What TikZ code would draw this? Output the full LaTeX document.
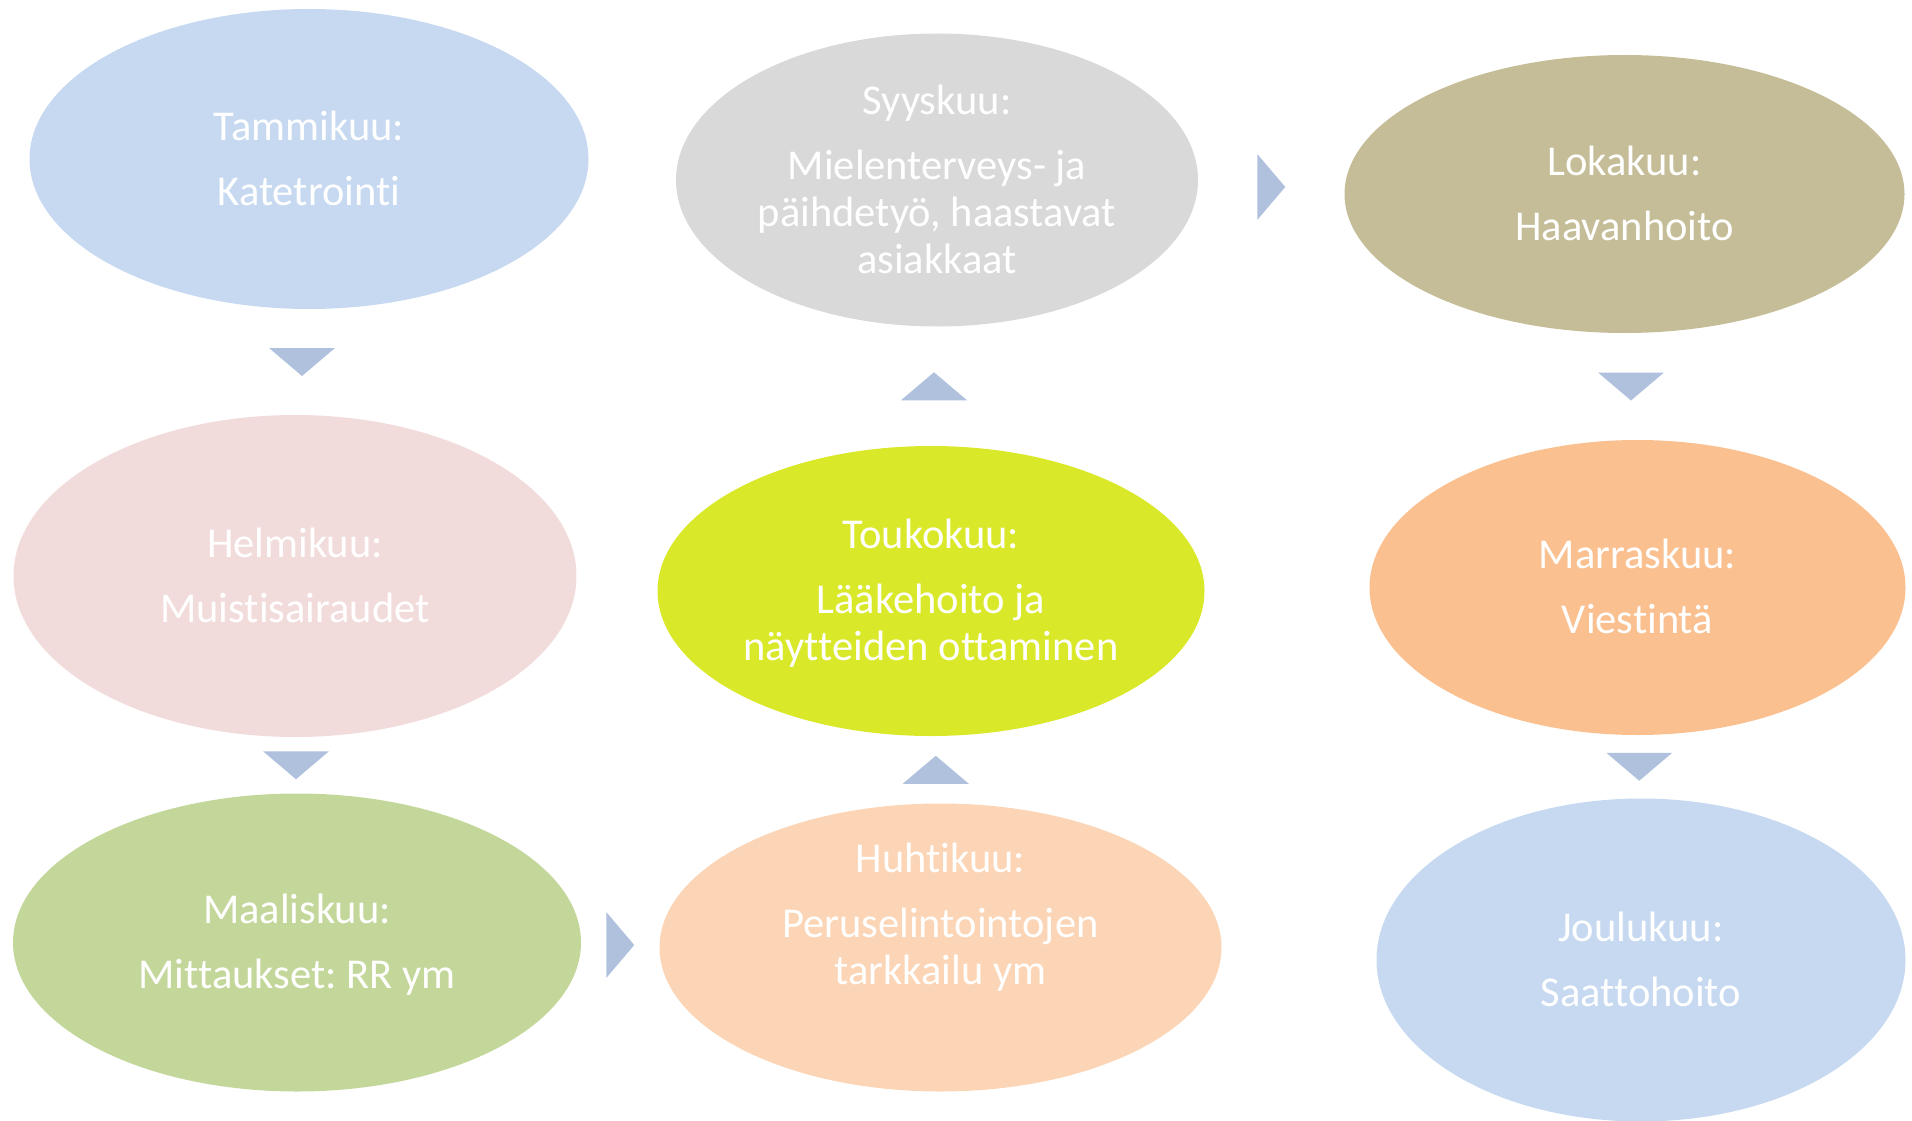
\documentclass[tikz,border=0pt]{standalone}
\usepackage{fontspec}
\setmainfont{Carlito}[Ligatures=NoCommon]
\usepackage{tikz}
\usetikzlibrary{shapes.geometric,calc}
\definecolor{janblue}{HTML}{C6D9F1}
\definecolor{febpink}{HTML}{F2DCDB}
\definecolor{margreen}{HTML}{C4D79B}
\definecolor{aprpeach}{HTML}{FBD5B5}
\definecolor{mayyellow}{HTML}{DAE82A}
\definecolor{sepgrey}{HTML}{D9D9D9}
\definecolor{octkhaki}{HTML}{C4BD97}
\definecolor{novorange}{HTML}{FAC090}
\definecolor{arrowblue}{HTML}{AFC1DD}
\frenchspacing
\def\Top{\rule{0pt}{37pt}}
\def\Bot{\rule[-10pt]{0pt}{10pt}}
\def\Chevron#1#2#3{%
\begin{scope}[shift=($(#1)!0.5!(#2)$), rotate=#3]
  \fill[chevron] (-14,-33) -- (-14,33) -- (14,0) -- cycle;
\end{scope}
}
\tikzset{month/.style={ellipse, fill=#1, draw=none, inner sep=0pt, outer sep=0pt,
           text=white, align=center, font=\fontsize{42.5}{47}\selectfont},
     chevron/.style={fill=arrowblue, draw=none}
     }

\begin{document}
\begin{tikzpicture}[x=1pt, y=-1pt]
\useasboundingbox (0,0) rectangle (1912,1121);
\node[month=janblue, minimum width=559, minimum height=300] (tammikuu) at (309,159)
  {\Top Tammikuu:\\[18pt]Katetrointi\Bot};
\node[month=febpink, minimum width=563, minimum height=322] (helmikuu) at (295,576)
  {\Top Helmikuu:\\[18pt]Muistisairaudet\Bot};
\node[month=margreen, minimum width=568, minimum height=298] (maaliskuu) at (297,942.5)
  {\Top Maaliskuu:\\[18pt]Mittaukset: RR ym\Bot};
\node[month=aprpeach, minimum width=562, minimum height=288] (huhtikuu) at (940.5,947.5)
  {\smash{Huhtikuu:}\\[18pt]Peruselintointojen\\tarkkailu ym\rule[-39pt]{0pt}{39pt}};
\node[month=mayyellow, minimum width=547, minimum height=290] (toukokuu) at (931,591)
  {\Top Toukokuu:\\[18pt]Lääkehoito ja\\näytteiden ottaminen\Bot};
\node[month=sepgrey, minimum width=522, minimum height=293] (syyskuu) at (937,180)
  {\Top Syyskuu:\\[18pt]Mielenterveys- ja\\päihdetyö, haastavat\\asiakkaat\Bot};
\node[month=octkhaki, minimum width=560, minimum height=278] (lokakuu) at (1624.5,194)
  {\Top Lokakuu:\\[18pt]Haavanhoito\Bot};
\node[month=novorange, minimum width=536, minimum height=295] (marraskuu) at (1637.5,587.5)
  {\Top Marraskuu:\\[18pt]Viestintä\Bot};
\node[month=janblue, minimum width=529, minimum height=323] (joulukuu) at (1641,960)
  {\Top Joulukuu:\\[18pt]Saattohoito\Bot};

\Chevron{tammikuu.south}{helmikuu.north}{-90}
\Chevron{helmikuu.south}{maaliskuu.north}{-90}
\Chevron{maaliskuu.east}{huhtikuu.west}{0}
\Chevron{huhtikuu.north}{toukokuu.south}{90}
\Chevron{toukokuu.north}{syyskuu.south}{90}
\Chevron{syyskuu.east}{lokakuu.west}{0}
\Chevron{lokakuu.south}{marraskuu.north}{-90}
\Chevron{marraskuu.south}{joulukuu.north}{-90}
\end{tikzpicture}
\end{document}
